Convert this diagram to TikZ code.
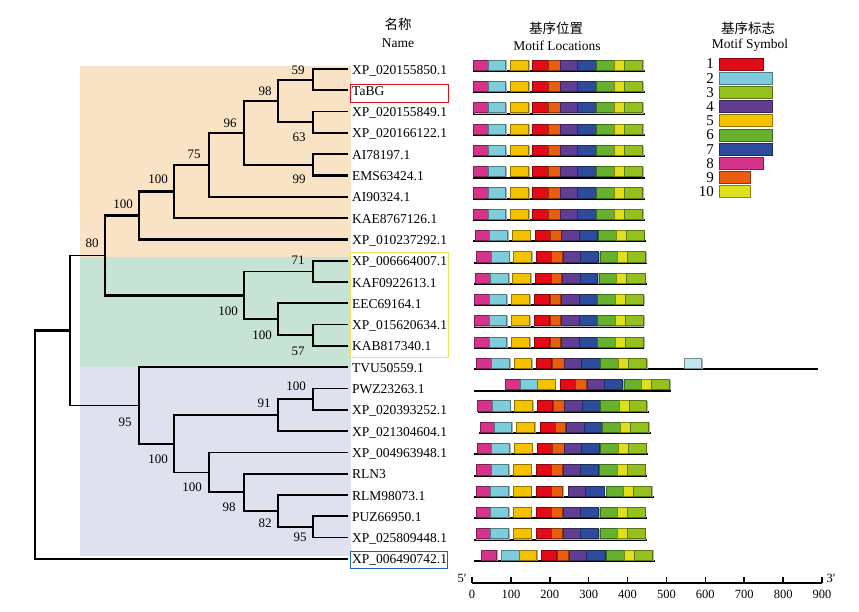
\documentclass[tikz,border=0pt]{standalone}
\usepackage{fontspec}
\setmainfont{Liberation Serif}
\newfontfamily\cjk{Noto Sans CJK SC}
\definecolor{m1}{HTML}{E30B17}
\definecolor{m2}{HTML}{7FCDDC}
\definecolor{m3}{HTML}{95C11F}
\definecolor{m4}{HTML}{623E92}
\definecolor{m5}{HTML}{F5C200}
\definecolor{m6}{HTML}{66B22E}
\definecolor{m7}{HTML}{2E4B9B}
\definecolor{m8}{HTML}{D6338A}
\definecolor{m9}{HTML}{E85E0E}
\definecolor{m10}{HTML}{DDE01A}
\definecolor{mpale}{HTML}{C2E6EE}
\definecolor{bgA}{HTML}{FAE3C5}
\definecolor{bgB}{HTML}{C7E3D5}
\definecolor{bgC}{HTML}{E0E1EF}
\definecolor{boxR}{HTML}{E0101E}
\definecolor{boxY}{HTML}{EEE35A}
\definecolor{boxB}{HTML}{1F64AD}
\newcommand\mrow[4]{%
  \draw[baseln] ({460+#2/3},{(#1)+2}) -- ({460+#3/3},{(#1)+2});
  \foreach \mc/\ma/\mb in {#4}{%
    \draw[mshadow] ({460+\ma/3+0.8},{(#1)-8.2}) rectangle ({460+\mb/3+0.8},{(#1)+1.4});
    \draw[motif,draw=\mc!60!black,fill=\mc] ({460+\ma/3},{(#1)-9}) rectangle ({460+\mb/3},{(#1)+1.2});}}
\begin{document}
\begin{tikzpicture}[x=1pt,y=-1pt,
  tree/.style={line width=1.7pt,line cap=rect},
  bold/.style={line width=2.6pt,line cap=rect},
  bs/.style={font=\fontsize{13}{15}\selectfont,inner sep=0pt},
  tkl/.style={font=\fontsize{12.5}{14}\selectfont,inner sep=0pt},
  leaf/.style={anchor=base west,font=\fontsize{13.5}{15}\selectfont,inner sep=0pt},
  hdr/.style={font=\fontsize{13.5}{15}\selectfont,inner sep=0pt},
  motif/.style={line width=0.7pt},
  mshadow/.style={draw=black!30,line width=1pt},
  baseln/.style={line width=2pt},
  lgd/.style={line width=0.8pt},
  lnum/.style={anchor=east,font=\fontsize{15}{17}\selectfont,inner sep=0pt}]
\useasboundingbox (0,0) rectangle (859,611);
% clade backgrounds
\fill[bgA] (80,66) rectangle (351,257);
\fill[bgB] (80,257) rectangle (351,367);
\fill[bgC] (80,367) rectangle (351,556);
% leaves
\foreach \n [count=\i from 0] in {XP\_020155850.1,TaBG,XP\_020155849.1,XP\_020166122.1,AI78197.1,EMS63424.1,AI90324.1,KAE8767126.1,XP\_010237292.1,XP\_006664007.1,KAF0922613.1,EEC69164.1,XP\_015620634.1,KAB817340.1,TVU50559.1,PWZ23263.1,XP\_020393252.1,XP\_021304604.1,XP\_004963948.1,RLN3,RLM98073.1,PUZ66950.1,XP\_025809448.1,XP\_006490742.1}{
  \coordinate (L\i) at (347,{69+21.3*\i});
  \node[leaf] (T\i) at (352,{69+21.3*\i+5}) {\n};
}
% internal nodes
\def\ry#1{69+21.3*#1}
\coordinate (n59) at (313,{\ry{0.5}});
\coordinate (n63) at (313,{\ry{2.5}});
\coordinate (n98) at (278,{\ry{1.5}});
\coordinate (n99) at (313,{\ry{4.5}});
\coordinate (n96) at (244,{\ry{3}});
\coordinate (n75) at (209,{\ry{4.5}});
\coordinate (nA) at (174,{\ry{5.75}});
\coordinate (nB) at (139,{\ry{6.875}});
\coordinate (n71) at (313,{\ry{9.5}});
\coordinate (n57) at (313,{\ry{12.5}});
\coordinate (nC) at (278,{\ry{11.75}});
\coordinate (nD) at (244,{\ry{10.625}});
\coordinate (n80) at (105,{\ry{8.75}});
\coordinate (nE) at (313,{\ry{15.5}});
\coordinate (n91) at (278,{\ry{16.25}});
\coordinate (n95b) at (313,{\ry{21.5}});
\coordinate (n82) at (278,{\ry{20.75}});
\coordinate (n98b) at (244,{\ry{19.875}});
\coordinate (nF) at (209,{\ry{18.94}});
\coordinate (nG) at (174,{\ry{17.59}});
\coordinate (n95) at (139,{\ry{15.8}});
\coordinate (n70) at (70,{\ry{12.27}});
\coordinate (root) at (35,{\ry{17.64}});
% branches
\draw[tree] (n59) |- (L1) (n63) |- (L2) (n63) |- (L3)
  (n98) |- (n59) (n98) |- (n63) (n99) |- (L4)
  (n71) |- (L9) (n57) |- (L12) (n57) |- (L13)
  (nC) |- (L11) (nC) |- (n57) (nD) |- (n71) (nD) |- (nC)
  (nE) |- (L15) (nE) |- (L16) (n91) |- (nE) (n91) |- (L17)
  (n95b) |- (L21) (n95b) |- (L22) (n82) |- (L20) (n82) |- (n95b)
  (n98b) |- (L19) (n98b) |- (n82) (nF) |- (L18) (nF) |- (n98b)
  (nG) |- (n91) (nG) |- (nF) (n95) |- (L14) (n95) |- (nG)
  (n70) |- (n80) (n70) |- (n95) (root) |- (L23);
\draw[bold] (n59) |- (L0) (n99) |- (L5) (n96) |- (n98) (n96) |- (n99)
  (n75) |- (n96) (n75) |- (L6) (nA) |- (n75) (nA) |- (L7)
  (nB) |- (nA) (nB) |- (L8) (n80) |- (nB) (n80) |- (nD)
  (n71) |- (L10) (root) |- (n70);
% bootstrap values
\node[bs] (b1) at (298,70) {59};
\node[bs] (b2) at (265,91) {98};
\node[bs] (b3) at (299,137) {63};
\node[bs] (b4) at (230,123) {96};
\node[bs] (b5) at (194,154) {75};
\node[bs] (b6) at (299,179) {99};
\node[bs] (b7) at (158,179) {100};
\node[bs] (b8) at (123,204) {100};
\node[bs] (b9) at (92,243) {80};
\node[bs] (b10) at (298,260) {71};
\node[bs] (b11) at (228,311) {100};
\node[bs] (b12) at (262,335) {100};
\node[bs] (b13) at (298,351) {57};
\node[bs] (b14) at (296,386) {100};
\node[bs] (b15) at (264,403) {91};
\node[bs] (b16) at (125,422) {95};
\node[bs] (b17) at (158,459) {100};
\node[bs] (b18) at (192,487) {100};
\node[bs] (b19) at (229,507) {98};
\node[bs] (b20) at (265,523) {82};
\node[bs] (b21) at (300,537) {95};
% highlight boxes
\draw[boxR,line width=0.9pt] (350,84) rectangle (448,102);
\draw[boxY,line width=0.9pt] (350,252) rectangle (448,357);
\draw[boxB,line width=0.9pt] (350,551) rectangle (447,568);
% headers
\node[hdr] (h1) at (398,24) {\cjk 名称};
\node[hdr] (h2) at (398,43) {Name};
\node[hdr] (h3) at (556,28) {\cjk 基序位置};
\node[hdr] (h4) at (557,46) {Motif Locations};
\node[hdr] (h5) at (748,28) {\cjk 基序标志};
\node[hdr] (h6) at (750,45) {Motif Symbol};
% motif rows
\foreach \r in {0,...,7}{\mrow{\ry{\r}}{40}{555}{m8/40/85,m2/85/137,m5/150/205,m1/218/265,m9/265/300,m4/300/352,m7/352/408,m6/410/463,m10/463/493,m3/493/547}}
\mrow{\ry{8}}{40}{557}{m8/45/88,m2/88/142,m5/157/210,m1/225/270,m9/270/303,m4/305/358,m7/358/412,m6/416/470,m10/470/500,m3/500/552}
\mrow{\ry{9}}{42}{560}{m8/48/95,m2/95/147,m5/160/215,m1/228/273,m9/275/307,m4/310/362,m7/362/416,m6/420/473,m10/473/503,m3/503/557}
\mrow{\ry{10}}{42}{560}{m8/46/92,m2/92/145,m5/158/212,m1/226/273,m9/273/305,m4/307/360,m7/360/413,m6/417/470,m10/470/500,m3/500/555}
\foreach \r in {11,12,13}{\mrow{\ry{\r}}{42}{553}{m8/43/87,m2/87/140,m5/153/208,m1/222/268,m9/270/302,m4/303/357,m7/357/411,m6/413/467,m10/467/497,m3/497/550}}
\mrow{\ry{14}}{42}{1075}{m8/50/95,m2/95/148,m5/162/215,m1/230/275,m9/277/312,m4/312/365,m7/365/420,m6/422/475,m10/475/505,m3/505/560,mpale/672/725}
\mrow{\ry{15}}{42}{632}{m8/137/180,m2/180/232,m5/232/285,m1/300/345,m9/347/380,m4/382/433,m7/433/488,m6/492/545,m10/545/575,m3/575/628}
\mrow{\ry{16}}{55}{567}{m8/53/97,m2/97/150,m5/163/218,m1/231/278,m9/280/312,m4/313/367,m7/367/420,m6/422/477,m10/477/507,m3/507/560}
\mrow{\ry{17}}{58}{572}{m8/60/103,m2/103/155,m5/170/223,m1/240/285,m9/285/317,m4/318/372,m7/372/426,m6/428/482,m10/482/512,m3/512/566}
\mrow{\ry{18}}{42}{565}{m8/52/95,m2/95/148,m5/163/216,m1/231/277,m9/277/312,m4/313/365,m7/365/418,m6/420/475,m10/475/505,m3/505/558}
\mrow{\ry{19}}{42}{560}{m8/48/93,m2/93/146,m5/160/213,m1/228/273,m9/275/308,m4/310/362,m7/362/416,m6/418/473,m10/473/503,m3/503/555}
\mrow{\ry{20}}{42}{582}{m8/48/92,m2/92/146,m5/160/213,m1/228/273,m9/273/307,m4/325/377,m7/377/432,m6/438/490,m10/490/520,m3/520/575}
\foreach \r in {21,22}{\mrow{\ry{\r}}{42}{560}{m8/48/92,m2/92/146,m5/160/213,m1/228/273,m9/273/307,m4/310/362,m7/362/415,m6/420/472,m10/472/502,m3/502/555}}
\mrow{\ry{23}}{42}{585}{m8/63/110,m2/123/177,m5/177/230,m1/243/290,m9/293/325,m4/328/380,m7/380/435,m6/440/493,m10/493/523,m3/523/577}
% legend
\foreach \k/\w in {1/763.3,2/772.7,3/772.7,4/772.7,5/772.7,6/772.7,7/772.7,8/763.3,9/750.3,10/750.3}{
  \draw[lgd,draw=m\k!60!black,fill=m\k] (719.3,{64+14.2*(\k-1)-6}) rectangle (\w,{64+14.2*(\k-1)+6});
  \node[lnum] (lg\k) at (714,{64+14.2*(\k-1)}) {\k};
}
% scale axis
\coordinate (ax0) at (472,583);
\coordinate (ax1) at (822,583);
\draw[line width=2.4pt] (ax0) -- (ax1);
\foreach \k in {0,...,9}{
  \draw[line width=1.6pt] ({472+\k*38.89},577) -- ({472+\k*38.89},583);
  \node[tkl] (tk\k) at ({472+\k*38.89},594.5) {\the\numexpr\k*100\relax};
}
\node[tkl] (p5) at (462,578) {5′};
\node[tkl] (p3) at (831,578) {3′};
\end{tikzpicture}
\end{document}
